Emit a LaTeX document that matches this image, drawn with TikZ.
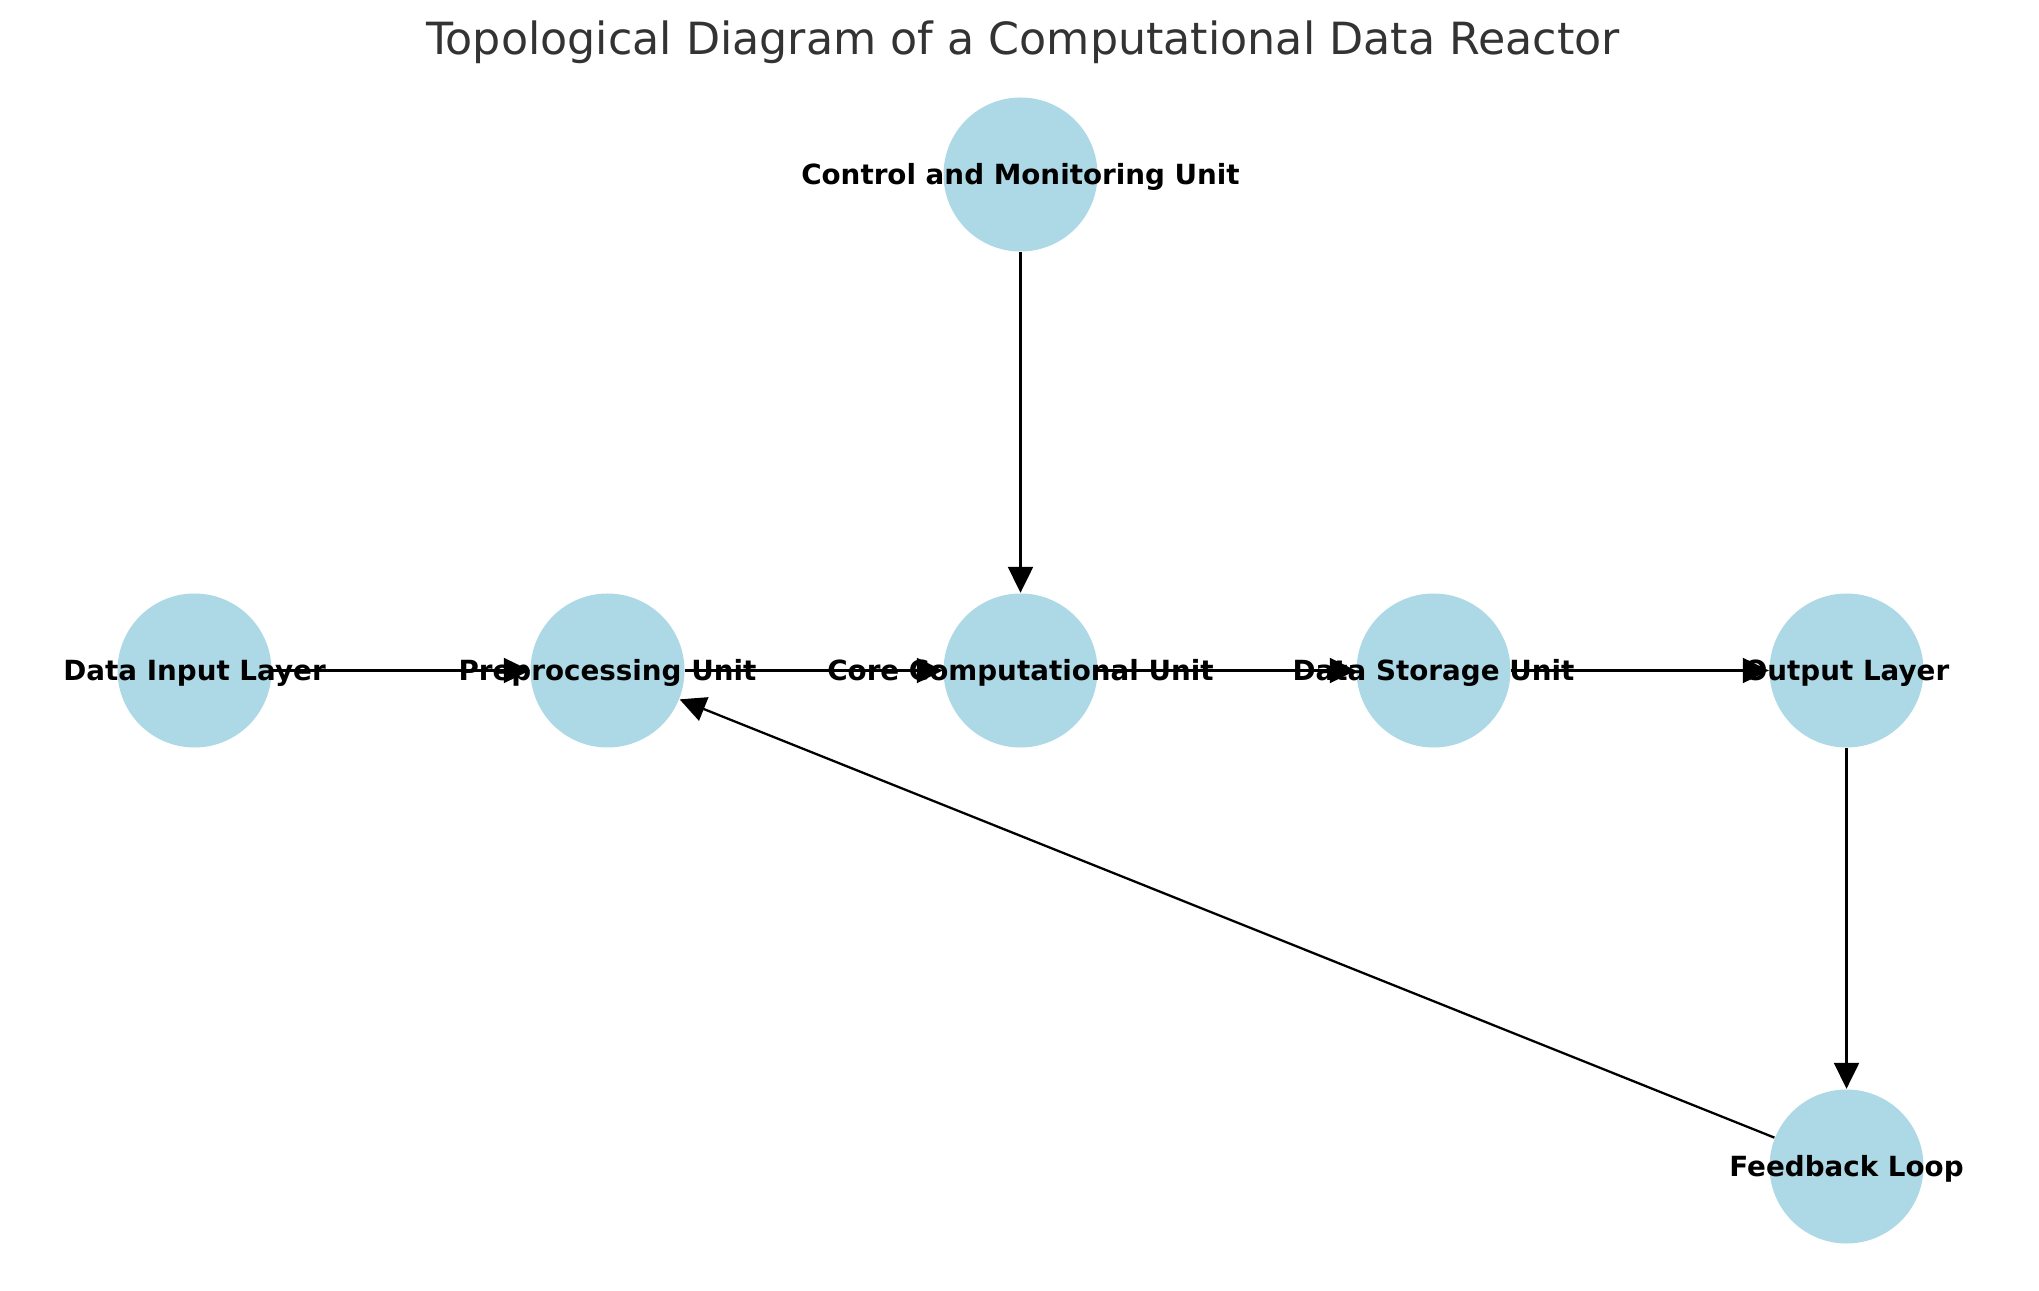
\documentclass[tikz,border=0pt]{standalone}
\usepackage{fontspec}
\setmainfont{DejaVu Sans}
\usetikzlibrary{arrows.meta}
\definecolor{nodeblue}{RGB}{173,216,230}
\definecolor{titlegray}{RGB}{51,51,51}

\begin{document}
\begin{tikzpicture}[
    unit/.style={circle, fill=nodeblue, minimum size=1.54cm, inner sep=0pt},
    lbl/.style={font=\fontsize{7.9}{10}\selectfont\bfseries, inner sep=0pt, yshift=-0.7pt},
    flow/.style={line width=0.65pt, -{Triangle[length=0.26cm, width=0.25cm]}}
]

\draw[draw=none, use as bounding box] (0, 0) rectangle (20.39, 12.90);

\node [text=titlegray, font=\fontsize{12.62}{15}\selectfont, anchor=base] (title) at (10.23, 12.35)
      {Topological Diagram of a Computational Data Reactor};

% units
\node [unit] (ctrl) at (10.205, 11.155) {};
\node [unit] (input) at (1.945, 6.195) {};
\node [unit] (prep) at (6.075, 6.195) {};
\node [unit] (core) at (10.205, 6.195) {};
\node [unit] (store) at (14.335, 6.195) {};
\node [unit] (output) at (18.465, 6.195) {};
\node [unit] (feedback) at (18.465, 1.235) {};

% flows
\draw [flow] (input) -- (prep);
\draw [flow] (prep) -- (core);
\draw [flow] (core) -- (store);
\draw [flow] (store) -- (output);
\draw [flow] (ctrl) -- (core);
\draw [flow] (output) -- (feedback);
\draw [flow] (feedback) -- (prep);

% labels on top
\node [lbl] (ctrl-lbl) at (ctrl) {Control and Monitoring Unit};
\node [lbl] (input-lbl) at (input) {Data Input Layer};
\node [lbl] (prep-lbl) at (prep) {Preprocessing Unit};
\node [lbl] (core-lbl) at (core) {Core Computational Unit};
\node [lbl] (store-lbl) at (store) {Data Storage Unit};
\node [lbl] (output-lbl) at (output) {Output Layer};
\node [lbl] (feedback-lbl) at (feedback) {Feedback Loop};
\end{tikzpicture}
\end{document}
